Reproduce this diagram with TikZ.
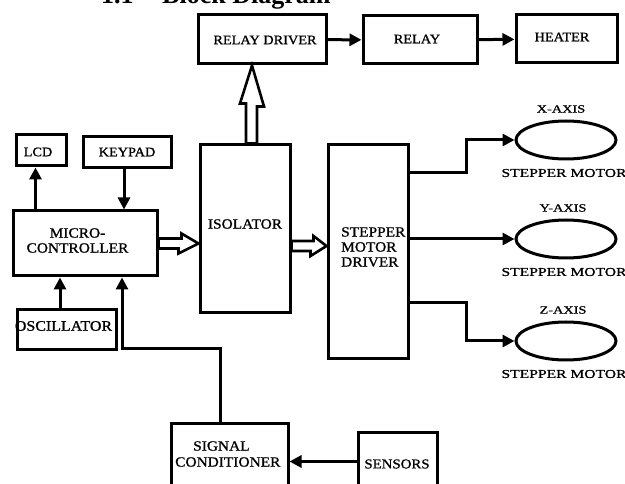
\documentclass[tikz,border=0pt]{standalone}
\usepackage{fontspec}
\setmainfont{Liberation Serif}
\newfontfamily\lab[FakeStretch=1.1,FakeBold=1]{Liberation Serif}
\newfontfamily\labw[FakeStretch=1.3,FakeBold=1]{Liberation Serif}
\usetikzlibrary{arrows.meta,shapes.geometric,calc}
\begin{document}
\begin{tikzpicture}[x=1pt,y=-1pt,
  box/.style={draw, line width=3pt, inner sep=0pt},
  oval/.style={draw, ellipse, line width=3pt, inner sep=0pt, minimum width=100, minimum height=38},
  txt/.style={inner sep=0pt, align=center, font=\lab\fontsize{14}{15}\selectfont},
  txts/.style={inner sep=0pt, align=center, font=\lab\fontsize{13}{15}\selectfont},
  axl/.style={inner sep=0pt, font=\labw\fontsize{11}{13}\selectfont},
  mot/.style={inner sep=0pt, font=\labw\fontsize{12}{14}\selectfont},
  arr/.style={line width=3pt, -{Triangle[length=12pt,width=12pt]}},
  hol/.style={line width=2.6pt, line join=miter}
]
\useasboundingbox (0,0) rectangle (625,484);

% title (cut off at the top)
\node[anchor=base west, inner sep=0pt, font=\fontsize{26}{28}\selectfont\bfseries] (title) at (101,4) {\makebox[61pt][l]{1.1}Block Diagram};

% boxes
\node[box, minimum width=128, minimum height=49] (rd) at (262,39.5) {};
\node[box, minimum width=114, minimum height=48] (relay) at (420,40) {};
\node[box, minimum width=101, minimum height=48] (heater) at (566.5,39) {};
\node[box, minimum width=50, minimum height=31] (lcd) at (41,150.5) {};
\node[box, minimum width=88, minimum height=31] (keypad) at (127,152.5) {};
\node[box, minimum width=144, minimum height=65] (micro) at (85,243.5) {};
\node[box, minimum width=90, minimum height=168] (iso) at (245,229) {};
\node[box, minimum width=80, minimum height=214] (smd) at (368,252) {};
\node[box, minimum width=99, minimum height=40] (osc) at (66.5,330) {};
\node[box, minimum width=117, minimum height=77] (sc) at (229.5,461.5) {};
\node[box, minimum width=79, minimum height=68] (sensors) at (397.5,466) {};
\node[oval] (ex) at (566,140) {};
\node[oval] (ey) at (566,239) {};
\node[oval] (ez) at (566,341) {};

% texts
\node[txts] (rdT) at (265,40) {RELAY DRIVER};
\node[txts] (relayT) at (417,39) {RELAY};
\node[txts] (heaterT) at (562,37) {HEATER};
\node[txts] (lcdT) at (38,152) {LCD};
\node[txts] (keypadT) at (127,152) {KEYPAD};
\node[txt] (microT) at (77.5,240.5) {MICRO-\\CONTROLLER};
\node[txt] (isoT) at (245,224) {ISOLATOR};
\node[txt, anchor=west, align=left] (smdT) at (341,247) {STEPPER\\MOTOR\\DRIVER};
\begin{scope}
  \clip (osc.south west) rectangle (osc.north east);
  \node[txt, font=\lab\fontsize{14.5}{15}\selectfont] (oscT) at (63.5,326) {OSCILLATOR};
\end{scope}
\node[txt, anchor=west, align=left, font=\lab\fontsize{14}{16}\selectfont] (scT) at (175,454) {\hspace{18pt}SIGNAL\\CONDITIONER};
\node[txt, font=\lab\fontsize{13.5}{15}\selectfont] (sensT) at (397,464) {SENSORS};
\node[axl] (xa) at (561,109) {X-AXIS};
\node[axl] (ya) at (563,208) {Y-AXIS};
\node[axl] (za) at (563,310) {Z-AXIS};
\node[mot] (xm) at (564,173) {STEPPER MOTOR};
\node[mot] (ym) at (564,272) {STEPPER MOTOR};
\node[mot] (zm) at (564,374) {STEPPER MOTOR};

% connectors
\draw[arr] (rd) -- (relay);
\draw[arr] (relay) -- (heater);
\draw[arr] ([xshift=24]micro.north west) -- ([xshift=24]micro.north west |- lcd.south);
\draw[arr] ([xshift=-3]keypad.south) -- ([xshift=-3]keypad.south |- micro.north);
\draw[arr] ([xshift=-6.5]osc.north) -- ([xshift=-6.5]osc.north |- micro.south);
\coordinate (bend) at (122,349);
\draw[arr] ([xshift=-9.5]sc.north) |- (bend) -- (bend |- micro.south);
\draw[arr] (sc.east -| sensors.west) -- (sc.east);
\draw[arr] ([yshift=79]smd.east) -- ++(57,0) |- (ex.west);
\draw[arr] (smd.east |- ey.west) -- (ey.west);
\draw[arr] ([yshift=-51]smd.east) -- ++(57,0) |- (ez.west);

% hollow arrows
\draw[hol] ([xshift=-10]rd.south) -- ++(12,41) -- ++(-7,0) -- ([xshift=12]iso.north)
  -- ([xshift=1]iso.north) -- ++(0,-40) -- ++(-6,0) -- cycle;
\draw[hol] ([yshift=5]micro.east) -- ++(23,0) -- ++(0,-5) -- (micro.east -| iso.west)
  -- ++(-20,10) -- ++(0,-5) -- ([yshift=-5]micro.east) -- cycle;
\draw[hol] ([yshift=-12]iso.east) -- ++(22,0) -- ++(0,-5) -- ([yshift=-17]iso.east -| smd.west)
  -- ++(-16,10) -- ++(0,-5) -- ([yshift=-22]iso.east) -- cycle;
\end{tikzpicture}
\end{document}
